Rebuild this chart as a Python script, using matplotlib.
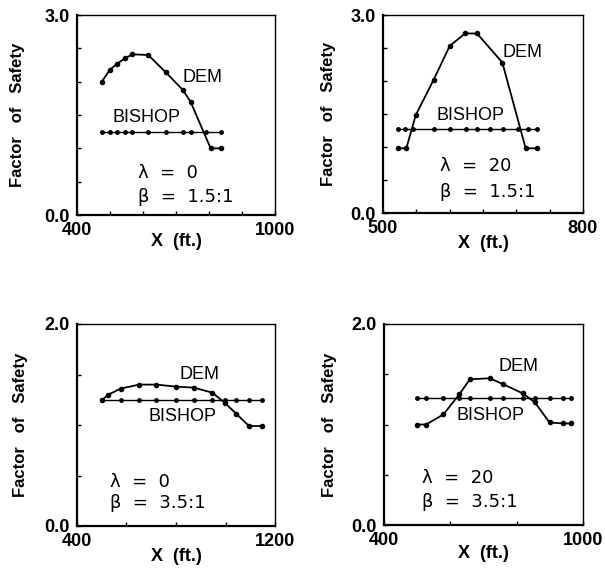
import matplotlib
matplotlib.use('Agg')
import matplotlib.pyplot as plt

plt.rcParams['font.family'] = ['Liberation Sans', 'DejaVu Sans']
plt.rcParams['font.weight'] = 'bold'

# panel 1: lambda = 0, beta = 1.5:1
dem1_x = [475, 500, 522, 545, 568, 616, 669, 720, 744, 805, 835]
dem1_y = [2.00, 2.18, 2.27, 2.35, 2.41, 2.40, 2.14, 1.88, 1.70, 1.00, 1.00]
bishop1_x = [475, 500, 522, 545, 568, 616, 669, 720, 744, 790, 835]
bishop1_y = [1.25] * len(bishop1_x)

# panel 2: lambda = 20, beta = 1.5:1
dem2_x = [523, 535, 549, 576, 600, 623, 641, 679, 714, 731]
dem2_y = [0.98, 0.98, 1.48, 2.02, 2.53, 2.72, 2.72, 2.28, 0.98, 0.98]
bishop2_x = [523, 533, 545, 576, 600, 625, 641, 660, 680, 703, 718, 731]
bishop2_y = [1.27] * len(bishop2_x)

# panel 3: lambda = 0, beta = 3.5:1
dem3_x = [503, 526, 576, 651, 721, 799, 872, 947, 997, 1044, 1095, 1149]
dem3_y = [1.25, 1.30, 1.36, 1.40, 1.40, 1.38, 1.37, 1.32, 1.22, 1.11, 0.99, 0.99]
bishop3_x = [503, 576, 651, 721, 799, 872, 947, 997, 1044, 1095, 1149]
bishop3_y = [1.25] * len(bishop3_x)

# panel 4: lambda = 20, beta = 3.5:1
dem4_x = [499, 527, 579, 627, 659, 719, 760, 818, 855, 899, 941, 963]
dem4_y = [1.00, 1.00, 1.10, 1.30, 1.45, 1.46, 1.40, 1.31, 1.22, 1.02, 1.01, 1.01]
bishop4_x = [499, 527, 579, 627, 659, 719, 760, 818, 855, 899, 941, 963]
bishop4_y = [1.26] * len(bishop4_x)

lambdas = ['0', '20', '0', '20']
betas = ['1.5:1', '1.5:1', '3.5:1', '3.5:1']
xlims = [(400, 1000), (500, 800), (400, 1200), (400, 1000)]
xsteps = [100, 50, 200, 200]
ylims = [(0, 3), (0, 3), (0, 2), (0, 2)]

W, H = 605, 571
# axes boxes in pixels: left, right, top, bottom
boxes = [(77, 275, 15, 215), (383, 583, 15, 213),
         (77, 275, 324, 526), (384, 583, 324, 525)]
# text positions (axes fractions)
dem_pos = [(0.535, 0.69), (0.595, 0.81), (0.52, 0.75), (0.575, 0.79)]
bishop_pos = [(0.18, 0.49), (0.27, 0.49), (0.36, 0.54), (0.366, 0.543)]
param_pos = [(0.31, 0.21, 0.09), (0.283, 0.235, 0.104),
             (0.165, 0.22, 0.113), (0.19, 0.233, 0.116)]
ylab_x = [-0.263, -0.233, -0.247, -0.238]
xlab_y = [-0.09, -0.11, -0.109, -0.10]

data = [(dem1_x, dem1_y, bishop1_x, bishop1_y),
        (dem2_x, dem2_y, bishop2_x, bishop2_y),
        (dem3_x, dem3_y, bishop3_x, bishop3_y),
        (dem4_x, dem4_y, bishop4_x, bishop4_y)]

fig = plt.figure(figsize=(W / 100, H / 100), dpi=100)

for i in range(4):
    l, r, t, b = boxes[i]
    ax = fig.add_axes([l / W, 1 - b / H, (r - l) / W, (b - t) / H])
    dx, dy, bx, by = data[i]
    ax.plot(bx, by, color='black', lw=1.0, marker='o', ms=2.5)
    ax.plot(dx, dy, color='black', lw=1.3, marker='o', ms=3)

    x0, x1 = xlims[i]
    y0, y1 = ylims[i]
    ax.set_xlim(x0, x1)
    ax.set_ylim(y0, y1)
    xt = list(range(x0, x1 + 1, xsteps[i]))
    ax.set_xticks(xt)
    ax.set_xticklabels([str(v) if v in (x0, x1) else '' for v in xt])
    yt = [y0 + 0.5 * k for k in range(int((y1 - y0) / 0.5) + 1)]
    ax.set_yticks(yt)
    ax.set_yticklabels(['%.1f' % v if v in (y0, y1) else '' for v in yt])
    ax.tick_params(direction='in', length=3, width=1, labelsize=13, pad=5)
    for lab in ax.get_xticklabels() + ax.get_yticklabels():
        lab.set_fontweight('bold')
    for s in ax.spines.values():
        s.set_linewidth(1.0)
    ax.spines['left'].set_linewidth(1.6)
    ax.spines['bottom'].set_linewidth(1.6)

    ax.set_ylabel('Factor   of   Safety', fontsize=12, fontweight='bold')
    ax.yaxis.set_label_coords(ylab_x[i], 0.5)
    ax.set_xlabel('X  (ft.)', fontsize=13, fontweight='bold')
    ax.xaxis.set_label_coords(0.5, xlab_y[i])

    ax.text(dem_pos[i][0], dem_pos[i][1], 'DEM', transform=ax.transAxes,
            fontsize=13, va='center', ha='left', fontweight='normal')
    ax.text(bishop_pos[i][0], bishop_pos[i][1], 'BISHOP', transform=ax.transAxes,
            fontsize=13, va='center', ha='left', fontweight='normal')
    px, ly, by_ = param_pos[i]
    ax.text(px, ly, '\u03bb  =  ' + lambdas[i], transform=ax.transAxes,
            fontsize=13, va='center', ha='left', fontweight='normal',
            family='DejaVu Sans')
    ax.text(px, by_, '\u03b2  =  ' + betas[i], transform=ax.transAxes,
            fontsize=13, va='center', ha='left', fontweight='normal',
            family='DejaVu Sans')

fig.savefig('out.png', dpi=100, facecolor='white')
